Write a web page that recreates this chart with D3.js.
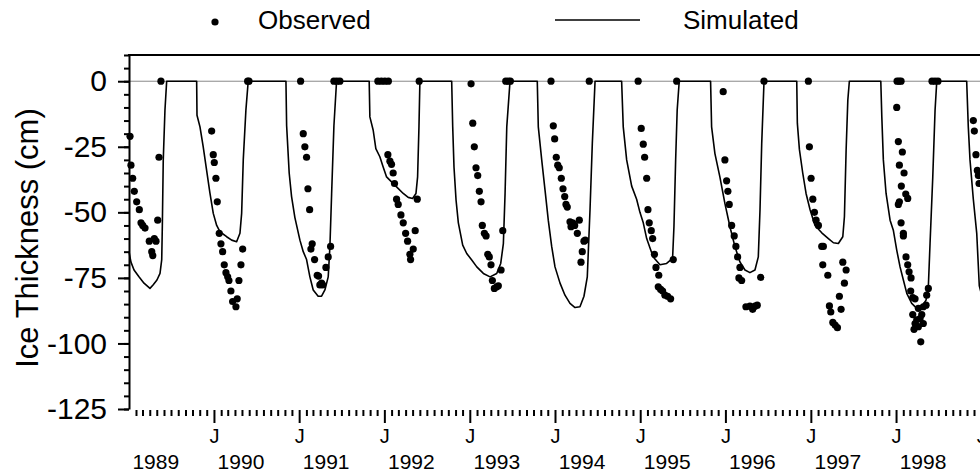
<!DOCTYPE html>
<html>
<head>
<meta charset="utf-8">
<script src="https://cdn.jsdelivr.net/npm/d3@7"></script>
<style>
body { margin: 0; background: #fff; }
svg { display: block; font-family: "Liberation Sans", Arial, sans-serif; }
</style>
</head>
<body>
<script>
// simulated ice thickness, [decimal year, cm]
var simulated = [
  [1989.003,-65],[1989.026,-69],[1989.062,-72],[1989.120,-74.6],[1989.179,-77],[1989.249,-79],[1989.285,-77.7],[1989.331,-75.8],[1989.367,-73.3],[1989.387,-68],[1989.394,-55.5],[1989.405,-30],[1989.425,-11],[1989.445,0],
  [1989.797,0],[1989.801,-13],[1989.836,-17.4],[1989.874,-25],[1989.914,-34],[1989.953,-42.7],[1989.992,-50.4],[1990.032,-55],[1990.070,-57.4],[1990.149,-59.3],[1990.208,-60.6],[1990.266,-61.2],[1990.305,-58],[1990.325,-50.4],[1990.344,-30],[1990.375,-11],[1990.402,0],
  [1990.845,0],[1990.853,-17],[1990.883,-35],[1990.911,-44],[1990.950,-52],[1991.009,-60.6],[1991.048,-65],[1991.087,-68],[1991.126,-74.6],[1991.165,-79.6],[1991.223,-82],[1991.263,-82],[1991.302,-79.6],[1991.341,-74.6],[1991.361,-63],[1991.381,-43],[1991.408,-17],[1991.439,0],
  [1991.822,0],[1991.830,-13.6],[1991.869,-18.7],[1991.900,-25.7],[1991.947,-28.8],[1991.986,-32.7],[1992.026,-36.5],[1992.084,-38.4],[1992.143,-40.3],[1992.221,-42.8],[1992.279,-44.3],[1992.331,-44.7],[1992.370,-42.8],[1992.389,-36.5],[1992.405,-17.4],[1992.416,0],
  [1992.788,0],[1992.800,-17.4],[1992.815,-32.7],[1992.839,-45.3],[1992.866,-54],[1992.917,-62.5],[1992.964,-65.7],[1993.023,-68.2],[1993.082,-70.8],[1993.159,-73.3],[1993.238,-74.6],[1993.316,-73.3],[1993.363,-69.5],[1993.394,-61.9],[1993.414,-42.8],[1993.434,-17.4],[1993.472,0],
  [1993.792,0],[1993.804,-17.4],[1993.844,-30],[1993.883,-41.5],[1993.921,-53],[1993.961,-63],[1994.000,-70.8],[1994.059,-77],[1994.117,-81.6],[1994.176,-84.7],[1994.235,-86.3],[1994.293,-86],[1994.340,-82],[1994.379,-74.6],[1994.411,-49],[1994.438,-23.7],[1994.470,0],
  [1994.782,0],[1994.801,-17.4],[1994.841,-30],[1994.900,-40],[1994.958,-45],[1994.997,-50],[1995.036,-54],[1995.076,-60],[1995.114,-63.5],[1995.153,-67],[1995.232,-70],[1995.310,-69.5],[1995.380,-67.6],[1995.396,-55.5],[1995.416,-30],[1995.434,-11],[1995.458,0],
  [1995.826,0],[1995.838,-17.4],[1995.877,-27.6],[1995.935,-36.5],[1995.994,-46.6],[1996.053,-55.5],[1996.111,-63],[1996.170,-68.9],[1996.229,-72],[1996.287,-73],[1996.346,-72],[1996.385,-67],[1996.405,-49],[1996.425,-23.7],[1996.452,0],
  [1996.835,0],[1996.842,-16],[1996.866,-26],[1996.905,-35],[1996.944,-42.8],[1996.991,-49],[1997.049,-55],[1997.128,-57.8],[1997.206,-60],[1997.265,-61.6],[1997.323,-61.9],[1997.375,-59.3],[1997.394,-51.7],[1997.414,-26.3],[1997.434,-7.2],[1997.452,0],
  [1997.821,0],[1997.833,-13.6],[1997.851,-30],[1997.883,-42.8],[1997.930,-53],[1997.968,-56.8],[1998.008,-64.4],[1998.047,-70.8],[1998.086,-75.8],[1998.126,-80.9],[1998.184,-84.7],[1998.243,-86.6],[1998.302,-86],[1998.352,-83.5],[1998.379,-78.4],[1998.399,-61.9],[1998.431,-36.5],[1998.458,-11],[1998.478,0],
  [1998.829,0],[1998.848,-17.4],[1998.868,-30],[1998.907,-45],[1998.947,-58],[1998.977,-78],[1999.009,-82]
];

// observed ice thickness, [decimal year, cm]
var observed = [
  [1989.015,-21],[1989.026,-32],[1989.046,-37],[1989.065,-42],[1989.093,-46],[1989.124,-49],[1989.144,-54],[1989.164,-55],[1989.191,-56],[1989.241,-61],[1989.300,-60],[1989.320,-61],[1989.270,-65],[1989.282,-66.5],[1989.340,-53],[1989.355,-29],[1989.378,0],
  [1989.973,-19],[1989.992,-28],[1990.004,-31],[1990.023,-37],[1990.039,-46],[1990.062,-58],[1990.082,-62],[1990.102,-65],[1990.121,-70],[1990.141,-73],[1990.161,-74.6],[1990.176,-76],[1990.199,-80],[1990.219,-84],[1990.258,-86],[1990.273,-83],[1990.293,-76],[1990.317,-70],[1990.337,-64],[1990.395,0],[1990.411,0],
  [1991.017,0],[1991.048,-20],[1991.067,-25],[1991.087,-29],[1991.103,-41],[1991.123,-49],[1991.153,-62],[1991.138,-64],[1991.181,-68],[1991.212,-74],[1991.228,-74.3],[1991.243,-77.7],[1991.275,-77.7],[1991.263,-77],[1991.314,-71],[1991.341,-67],[1991.369,-63],[1991.408,0],[1991.443,0],[1991.478,0],
  [1991.924,0],[1991.965,0],[1992.006,0],[1992.047,0],[1992.408,0],[1992.041,-28],[1992.065,-30.5],[1992.084,-31.7],[1992.103,-35],[1992.119,-39],[1992.143,-45],[1992.162,-47],[1992.194,-51],[1992.221,-54],[1992.249,-58],[1992.272,-61],[1992.299,-66],[1992.307,-68],[1992.338,-64],[1992.361,-57],[1992.385,-45],
  [1993.015,-1],[1993.035,-16],[1993.053,-25],[1993.073,-33],[1993.093,-36],[1993.112,-42],[1993.132,-46],[1993.147,-55],[1993.171,-58],[1993.191,-59],[1993.211,-66],[1993.229,-67],[1993.249,-70],[1993.265,-76],[1993.288,-79],[1993.316,-78.4],[1993.335,-78],[1993.367,-72],[1993.387,-57],[1993.422,0],[1993.452,0],[1993.476,0],
  [1993.953,0],[1994.402,0],[1993.980,-17],[1993.996,-22],[1994.015,-29],[1994.032,-32],[1994.050,-33],[1994.074,-37],[1994.094,-41],[1994.114,-44],[1994.129,-47],[1994.144,-48],[1994.176,-53.6],[1994.207,-54],[1994.231,-55],[1994.188,-55.5],[1994.262,-58],[1994.285,-53],[1994.340,-61],[1994.355,-60.6],[1994.320,-65],[1994.305,-69],
  [1994.976,0],[1995.012,-18],[1995.036,-24],[1995.052,-29],[1995.076,-37],[1995.091,-49],[1995.106,-54],[1995.130,-57],[1995.146,-60],[1995.167,-66],[1995.185,-71],[1995.218,-74],[1995.212,-78.4],[1995.240,-79.4],[1995.263,-80],[1995.290,-81.6],[1995.322,-82],[1995.357,-83],[1995.388,-68],[1995.428,0],
  [1995.974,-4],[1995.994,-30],[1996.014,-38],[1996.029,-42],[1996.045,-47],[1996.073,-55],[1996.103,-59],[1996.123,-63],[1996.143,-67],[1996.170,-71],[1996.158,-75],[1996.190,-76],[1996.240,-86],[1996.287,-85.8],[1996.346,-85.8],[1996.319,-87],[1996.373,-85.4],[1996.413,-74.8],[1996.452,0],
  [1996.971,0],[1996.983,-25],[1997.003,-37],[1997.023,-45],[1997.042,-50],[1997.061,-53],[1997.089,-55],[1997.128,-63],[1997.147,-63],[1997.140,-70],[1997.199,-74],[1997.218,-85.7],[1997.234,-88],[1997.258,-92],[1997.285,-93],[1997.312,-94],[1997.335,-82],[1997.355,-87],[1997.375,-69],[1997.394,-77],[1997.414,-72],
  [1998.012,0],[1998.036,0],[1998.059,0],[1998.422,0],[1998.457,0],[1998.492,0],[1998.008,-10],[1998.027,-23],[1998.074,-27],[1998.039,-32],[1998.094,-35],[1998.062,-40],[1998.114,-43],[1998.137,-44.7],[1998.039,-46],[1998.027,-47],[1998.059,-54],[1998.086,-58],[1998.086,-59],[1998.117,-67],[1998.137,-70],[1998.153,-72.7],[1998.176,-75],[1998.172,-80],[1998.196,-82.5],[1998.223,-83],[1998.379,-79],[1998.360,-81.6],[1998.320,-86],[1998.352,-85.4],[1998.262,-86.6],[1998.196,-89],[1998.302,-89],[1998.243,-91],[1998.282,-90.5],[1998.223,-92.4],[1998.262,-93.6],[1998.211,-94.6],[1998.320,-92.4],[1998.290,-99.4],
  [1998.907,-15],[1998.919,-19],[1998.938,-28],[1998.954,-34],[1998.966,-36],[1998.974,-39]
];

var yMajor = [-125, -100, -75, -50, -25, 0];
var yearLabels = [1989, 1990, 1991, 1992, 1993, 1994, 1995, 1996, 1997, 1998];
var janYears = [1990, 1991, 1992, 1993, 1994, 1995, 1996, 1997, 1998, 1999];

var width = 980, height = 476;
var plot = {left: 129, top: 55, bottom: 409};

function toDate(t) {
  var yr = Math.floor(t);
  var a = new Date(yr, 0, 1), b = new Date(yr + 1, 0, 1);
  return new Date(+a + (t - yr) * (b - a));
}

var x = d3.scaleTime()
    .domain([new Date(1989, 0, 1), new Date(1999, 0, 1)])
    .range([128.75, 981.25]);
var y = d3.scaleLinear()
    .domain([-125, 10])
    .range([plot.bottom, plot.top]);

var svg = d3.select("body").append("svg")
    .attr("width", width)
    .attr("height", height);

// zero reference line
svg.append("line")
    .attr("x1", plot.left).attr("x2", width)
    .attr("y1", y(0)).attr("y2", y(0))
    .attr("stroke", "#888").attr("stroke-width", 1);

// simulated
var line = d3.line()
    .x(function(d) { return x(toDate(d[0])); })
    .y(function(d) { return y(d[1]); });

svg.append("path")
    .datum(simulated)
    .attr("fill", "none")
    .attr("stroke", "#000")
    .attr("stroke-width", 1.6)
    .attr("stroke-linejoin", "round")
    .attr("d", line);

// observed
svg.selectAll(".obs")
    .data(observed)
    .enter().append("circle")
    .attr("class", "obs")
    .attr("cx", function(d) { return x(toDate(d[0])); })
    .attr("cy", function(d) { return y(d[1]); })
    .attr("r", 3.6)
    .attr("fill", "#000");

// frame top
svg.append("line")
    .attr("x1", plot.left - 1).attr("x2", width)
    .attr("y1", plot.top).attr("y2", plot.top)
    .attr("stroke", "#000").attr("stroke-width", 2);

// y axis, minor then major
svg.append("g")
    .attr("transform", "translate(" + plot.left + ",0)")
    .call(d3.axisLeft(y).tickValues(d3.range(-125, 11, 5)).tickSize(5).tickSizeOuter(0).tickFormat(""))
    .call(function(g) { g.selectAll("line, path").attr("stroke-width", 2); });

var yAxis = svg.append("g")
    .attr("transform", "translate(" + plot.left + ",0)")
    .call(d3.axisLeft(y).tickValues(yMajor).tickSize(11).tickSizeOuter(0).tickPadding(11)
      .tickFormat(function(d) { return String(d); }));
yAxis.select(".domain").remove();
yAxis.selectAll("line").attr("stroke-width", 2);
yAxis.selectAll("text")
    .attr("font-size", 30)
    .attr("fill", "#000")
    .attr("font-family", "Liberation Sans, Arial, sans-serif");

svg.append("text")
    .attr("transform", "translate(38," + ((plot.top + plot.bottom) / 2 + 6) + ") rotate(-90)")
    .attr("text-anchor", "middle")
    .attr("font-size", 31)
    .text("Ice Thickness (cm)");

// x axis, monthly minor ticks and January majors
var months = d3.timeMonth.range(new Date(1989, 1, 1), new Date(1999, 6, 1))
    .filter(function(d) { return d.getMonth() !== 0; });
var xMinor = svg.append("g")
    .attr("transform", "translate(0," + (plot.bottom + 1) + ")")
    .call(d3.axisBottom(x).tickValues(months).tickSize(6).tickSizeOuter(0).tickFormat(""));
xMinor.select(".domain").remove();
xMinor.selectAll("line").attr("stroke-width", 2);

var januaries = janYears.map(function(yr) { return new Date(yr, 0, 1); });
var xMajor = svg.append("g")
    .attr("transform", "translate(0," + (plot.bottom + 1) + ")")
    .call(d3.axisBottom(x).tickValues(januaries).tickSize(13).tickSizeOuter(0).tickPadding(6).tickFormat(function() { return "J"; }));
xMajor.select(".domain").remove();
xMajor.selectAll("line").attr("stroke-width", 2);
xMajor.selectAll("text")
    .attr("font-size", 20)
    .attr("fill", "#000")
    .attr("font-family", "Liberation Sans, Arial, sans-serif");

svg.selectAll(".year")
    .data(yearLabels)
    .enter().append("text")
    .attr("class", "year")
    .attr("x", function(d) { return x(new Date(d, 0, 1)) + 27; })
    .attr("y", 469)
    .attr("text-anchor", "middle")
    .attr("font-size", 21)
    .text(function(d) { return d; });

// legend
var legend = svg.append("g");
legend.append("circle").attr("cx", 215).attr("cy", 22).attr("r", 3.6).attr("fill", "#000");
legend.append("text").attr("x", 258).attr("y", 29).attr("font-size", 26).text("Observed");
legend.append("line").attr("x1", 555).attr("x2", 640).attr("y1", 20).attr("y2", 20)
    .attr("stroke", "#000").attr("stroke-width", 1.6);
legend.append("text").attr("x", 683).attr("y", 29).attr("font-size", 26).text("Simulated");
</script>
</body>
</html>
